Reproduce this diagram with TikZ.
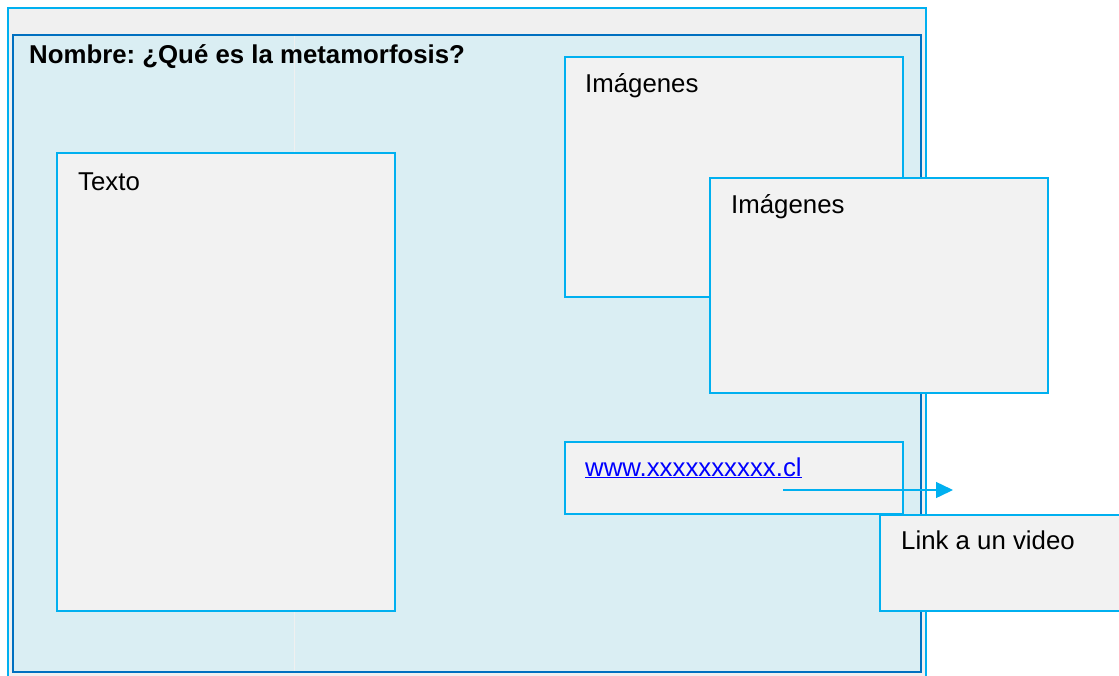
\documentclass[tikz,border=0pt]{standalone}
\usepackage{fontspec}
\setmainfont{Liberation Sans}
\usepackage{tikz}
\usetikzlibrary{arrows.meta}
\definecolor{celeste}{HTML}{00B0F0}
\definecolor{azul}{HTML}{0070C0}
\definecolor{fondo}{HTML}{DAEEF3}
\definecolor{gris}{HTML}{F2F2F2}
\definecolor{grismarco}{HTML}{F0F0F0}
\newcommand{\enlace}[1]{\textcolor{blue}{\underline{#1}}}
\frenchspacing

\begin{document}
\begin{tikzpicture}[x=1pt,y=-1pt,
	caja/.style={draw=celeste,fill=gris,line width=2pt,anchor=north west,inner sep=0pt,outer sep=0pt},
	rotulo/.style={anchor=base west,inner sep=0pt,font=\fontsize{25.8}{30}\selectfont}]
	\clip (0,0) rectangle (1119,675);
	\fill[white] (0,0) rectangle (1119,675);
	% marcos
	\node[caja,fill=grismarco,minimum width=918pt,minimum height=680pt] (marco) at (8,8) {};
	\node[caja,draw=azul,fill=fondo,minimum width=908pt,minimum height=637pt] (hoja) at (13,35) {};
	\draw[gray!12,line width=1pt] (294,36) -- (294,671);
	\node[rotulo,font=\fontsize{25.8}{30}\selectfont\bfseries] (titulo) at (29,63) {Nombre: ¿Qué es la metamorfosis?};
	% cajas
	\node[caja,minimum width=338pt,minimum height=458pt] (texto) at (57,153) {};
	\node[rotulo] (textoL) at ([shift={(21pt,-37pt)}]texto.north west) {Texto};
	\node[caja,minimum width=338pt,minimum height=240pt] (img1) at (565,57) {};
	\node[rotulo] (img1L) at ([shift={(20pt,-35pt)}]img1.north west) {Imágenes};
	\node[caja,minimum width=338pt,minimum height=215pt] (img2) at (710,178) {};
	\node[rotulo] (img2L) at ([shift={(21pt,-35pt)}]img2.north west) {Imágenes};
	\node[caja,minimum width=338pt,minimum height=72pt] (url) at (565,442) {};
	\node[rotulo] (urlL) at ([shift={(20pt,-34pt)}]url.north west) {\enlace{www.xxxxxxxxxx.cl}};
	\node[caja,minimum width=260pt,minimum height=96pt] (video) at (880,515) {};
	\node[rotulo] (videoL) at ([shift={(21pt,-34pt)}]video.north west) {Link a un video};
	% flecha
	\coordinate (flechaA) at (783,490);
	\coordinate (flechaB) at (953,490);
	\draw[celeste,line width=1.4pt,-{Triangle[length=17pt,width=16pt]}] (flechaA) -- (flechaB);
\end{tikzpicture}
\end{document}
